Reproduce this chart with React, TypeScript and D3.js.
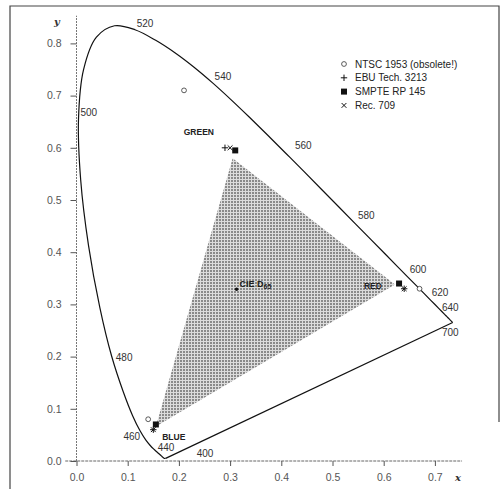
import React, { useEffect, useRef } from "react";
import * as d3 from "d3";

// CIE 1931 spectral locus (nm, x, y)
const locusNm = [380, 385, 390, 395, 400, 405, 410, 415, 420, 425, 430, 435, 440, 445, 450, 455, 460, 465, 470, 475, 480, 485, 490, 495, 500, 505, 510, 515, 520, 525, 530, 535, 540, 545, 550, 555, 560, 565, 570, 575, 580, 585, 590, 595, 600, 605, 610, 615, 620, 625, 630, 635, 640, 645, 650, 655, 660, 665, 670, 675, 680, 685, 690, 695, 700];
const locusX = [0.1741, 0.174, 0.1738, 0.1736, 0.1733, 0.173, 0.1726, 0.1721, 0.1714, 0.1703, 0.1689, 0.1669, 0.1644, 0.1611, 0.1566, 0.151, 0.144, 0.1355, 0.1241, 0.1096, 0.0913, 0.0687, 0.0454, 0.0235, 0.0082, 0.0039, 0.0139, 0.0389, 0.0743, 0.1142, 0.1547, 0.1929, 0.2296, 0.2658, 0.3016, 0.3373, 0.3731, 0.4087, 0.4441, 0.4788, 0.5125, 0.5448, 0.5752, 0.6029, 0.627, 0.6482, 0.6658, 0.6801, 0.6915, 0.7006, 0.7079, 0.714, 0.719, 0.723, 0.726, 0.7283, 0.73, 0.7311, 0.732, 0.7327, 0.7334, 0.734, 0.7344, 0.7346, 0.7347];
const locusY = [0.005, 0.005, 0.0049, 0.0049, 0.0048, 0.0048, 0.0048, 0.0048, 0.0051, 0.0058, 0.0069, 0.0086, 0.0109, 0.0138, 0.0177, 0.0227, 0.0297, 0.0399, 0.0578, 0.0868, 0.1327, 0.2007, 0.295, 0.4127, 0.5384, 0.6548, 0.7502, 0.812, 0.8338, 0.8262, 0.8059, 0.7816, 0.7543, 0.7243, 0.6923, 0.6589, 0.6245, 0.5896, 0.5547, 0.5202, 0.4866, 0.4544, 0.4242, 0.3965, 0.3725, 0.3514, 0.334, 0.3197, 0.3083, 0.2993, 0.292, 0.2859, 0.2809, 0.277, 0.274, 0.2717, 0.27, 0.2689, 0.268, 0.2673, 0.2666, 0.266, 0.2656, 0.2654, 0.2653];

// wavelength labels and where they sit (chromaticity coords)
const nmLabels = ["520", "540", "500", "560", "580", "600", "620", "640", "700", "480", "460", "440", "400"];
const nmLabelX = [0.134, 0.286, 0.024, 0.443, 0.566, 0.667, 0.71, 0.73, 0.73, 0.093, 0.108, 0.175, 0.251];
const nmLabelY = [0.839, 0.736, 0.667, 0.605, 0.47, 0.366, 0.322, 0.295, 0.247, 0.199, 0.046, 0.025, 0.015];

// primaries R, G, B per standard
const standards = ["NTSC 1953 (obsolete!)", "EBU Tech. 3213", "SMPTE RP 145", "Rec. 709"];
const standardMarks = ["circle", "plus", "square", "cross"];
const primX = [
  [0.67, 0.21, 0.14],
  [0.64, 0.29, 0.15],
  [0.63, 0.31, 0.155],
  [0.64, 0.3, 0.15],
];
const primY = [
  [0.33, 0.71, 0.08],
  [0.33, 0.6, 0.06],
  [0.34, 0.595, 0.07],
  [0.33, 0.6, 0.06],
];

// shaded gamut triangle
const gamutX = [0.305, 0.622, 0.155];
const gamutY = [0.58, 0.338, 0.066];

const d65 = [0.3127, 0.329];

const primNames = ["RED", "GREEN", "BLUE"];
const primNameX = [0.579, 0.239, 0.19];
const primNameY = [0.335, 0.63, 0.046];

const xTicks = [0, 0.1, 0.2, 0.3, 0.4, 0.5, 0.6, 0.7];
const yTicks = [0, 0.1, 0.2, 0.3, 0.4, 0.5, 0.6, 0.7, 0.8];

const W = 502;
const H = 489;

function drawMark(g, type, cx, cy) {
  if (type === "circle") {
    g.append("circle").attr("cx", cx).attr("cy", cy).attr("r", 2.4).attr("fill", "#fff").attr("stroke", "#333").attr("stroke-width", 0.8);
  } else if (type === "plus") {
    g.append("path").attr("d", `M${cx - 3.2},${cy}H${cx + 3.2}M${cx},${cy - 3.2}V${cy + 3.2}`).attr("stroke", "#111").attr("stroke-width", 1);
  } else if (type === "square") {
    g.append("rect").attr("x", cx - 3).attr("y", cy - 3).attr("width", 6).attr("height", 6).attr("fill", "#111");
  } else {
    g.append("path").attr("d", `M${cx - 2.4},${cy - 2.4}L${cx + 2.4},${cy + 2.4}M${cx - 2.4},${cy + 2.4}L${cx + 2.4},${cy - 2.4}`).attr("stroke", "#111").attr("stroke-width", 1);
  }
}

export default function App() {
  const ref = useRef<SVGSVGElement>(null);

  useEffect(() => {
    const svg = d3.select(ref.current);
    svg.selectAll("*").remove();

    const x = d3.scaleLinear().domain([0, 0.7]).range([76.5, 76.5 + 0.7 * 512]);
    const y = d3.scaleLinear().domain([0, 0.8]).range([461, 461 - 0.8 * 522]);

    const defs = svg.append("defs");
    const pat = defs.append("pattern").attr("id", "dots").attr("width", 3).attr("height", 3).attr("patternUnits", "userSpaceOnUse");
    pat.append("rect").attr("width", 3).attr("height", 3).attr("fill", "#dcdcdc");
    pat.append("rect").attr("width", 2).attr("height", 2).attr("fill", "#8a8a8a");

    // scanned page frame
    svg.append("path").attr("d", `M10,${H}V6H499V422`).attr("fill", "none").attr("stroke", "#444").attr("stroke-width", 1.2);

    // shaded gamut
    const tri = gamutX.map((v, i) => [x(v), y(gamutY[i])]);
    svg.append("path").attr("d", d3.line()(tri) + "Z").attr("fill", "url(#dots)");

    // axes
    svg.append("line").attr("x1", x(-0.022)).attr("x2", x(0.753)).attr("y1", y(0)).attr("y2", y(0)).attr("stroke", "#666").attr("stroke-width", 1).attr("stroke-dasharray", "3,1");
    svg.append("line").attr("x1", x(0)).attr("x2", x(0)).attr("y1", y(0)).attr("y2", y(0.853)).attr("stroke", "#777").attr("stroke-width", 1).attr("stroke-dasharray", "2,1");

    const xAxis = d3.axisBottom(x).tickValues(xTicks).tickSize(5).tickPadding(8).tickFormat(d3.format(".1f"));
    const gx = svg.append("g").attr("transform", `translate(0,${y(0)})`).call(xAxis);
    gx.select(".domain").remove();
    gx.selectAll(".tick line").attr("stroke", "#555");
    gx.selectAll(".tick text").attr("fill", "#555").attr("font-size", 10.5).attr("font-family", "Liberation Sans, Arial, sans-serif");

    const yAxis = d3.axisLeft(y).tickValues(yTicks).tickSize(6).tickPadding(9).tickFormat(d3.format(".1f"));
    const gy = svg.append("g").attr("transform", `translate(${x(0)},0)`).call(yAxis);
    gy.select(".domain").remove();
    gy.selectAll(".tick line").attr("stroke", "#555");
    gy.selectAll(".tick text").attr("fill", "#555").attr("font-size", 10.5).attr("font-family", "Liberation Sans, Arial, sans-serif");

    svg.append("text").attr("x", 57).attr("y", 25).text("y").attr("font-style", "italic").attr("font-weight", "bold").attr("font-size", 10).attr("font-family", "DejaVu Serif, serif").attr("fill", "#333").attr("text-anchor", "middle");
    svg.append("text").attr("x", 458).attr("y", 481).text("x").attr("font-style", "italic").attr("font-weight", "bold").attr("font-size", 10).attr("font-family", "DejaVu Serif, serif").attr("fill", "#333").attr("text-anchor", "middle");

    // spectral locus + line of purples
    const pts = locusNm.map((_, i) => [x(locusX[i]), y(locusY[i])]);
    svg.append("path").attr("d", d3.line().curve(d3.curveCatmullRom)(pts)).attr("fill", "none").attr("stroke", "#111").attr("stroke-width", 1.2);
    svg.append("line")
      .attr("x1", x(locusX[0])).attr("y1", y(locusY[0]))
      .attr("x2", x(locusX[locusX.length - 1])).attr("y2", y(locusY[locusY.length - 1]))
      .attr("stroke", "#111").attr("stroke-width", 1.2);

    // wavelength labels
    svg.append("g").selectAll("text").data(nmLabels).join("text")
      .attr("x", (d, i) => x(nmLabelX[i]))
      .attr("y", (d, i) => y(nmLabelY[i]))
      .attr("dy", "0.35em")
      .attr("text-anchor", "middle")
      .attr("font-size", 10)
      .attr("font-family", "Liberation Sans, Arial, sans-serif")
      .attr("fill", "#333")
      .text(d => d);

    // primaries
    const gm = svg.append("g");
    standards.forEach((s, si) => {
      primX[si].forEach((v, pi) => drawMark(gm, standardMarks[si], x(v), y(primY[si][pi])));
    });

    // D65
    svg.append("circle").attr("cx", x(d65[0])).attr("cy", y(d65[1])).attr("r", 1.8).attr("fill", "#111");
    const dl = svg.append("text").attr("x", x(d65[0]) + 3).attr("y", y(d65[1]) - 2)
      .attr("font-size", 9).attr("font-weight", "bold").attr("font-family", "Liberation Sans, Arial, sans-serif").attr("fill", "#222");
    dl.append("tspan").text("CIE D");
    dl.append("tspan").attr("font-size", 7).attr("dy", 2).text("65");

    svg.append("g").selectAll("text").data(primNames).join("text")
      .attr("x", (d, i) => x(primNameX[i]))
      .attr("y", (d, i) => y(primNameY[i]))
      .attr("dy", "0.35em")
      .attr("text-anchor", "middle")
      .attr("font-size", 8.5)
      .attr("font-weight", "bold")
      .attr("font-family", "Liberation Sans, Arial, sans-serif")
      .attr("fill", "#222")
      .text(d => d);

    // legend
    const lg = svg.append("g").attr("transform", "translate(344,64)");
    standards.forEach((s, i) => {
      drawMark(lg, standardMarks[i], 0, i * 13.8);
      lg.append("text").attr("x", 11).attr("y", i * 13.8).attr("dy", "0.35em")
        .attr("font-size", 10).attr("font-family", "Liberation Sans, Arial, sans-serif").attr("fill", "#222").text(s);
    });
  }, []);

  return <svg ref={ref} width={W} height={H} style={{ position: "absolute", left: 0, top: 0, background: "#fff" }} />;
}
